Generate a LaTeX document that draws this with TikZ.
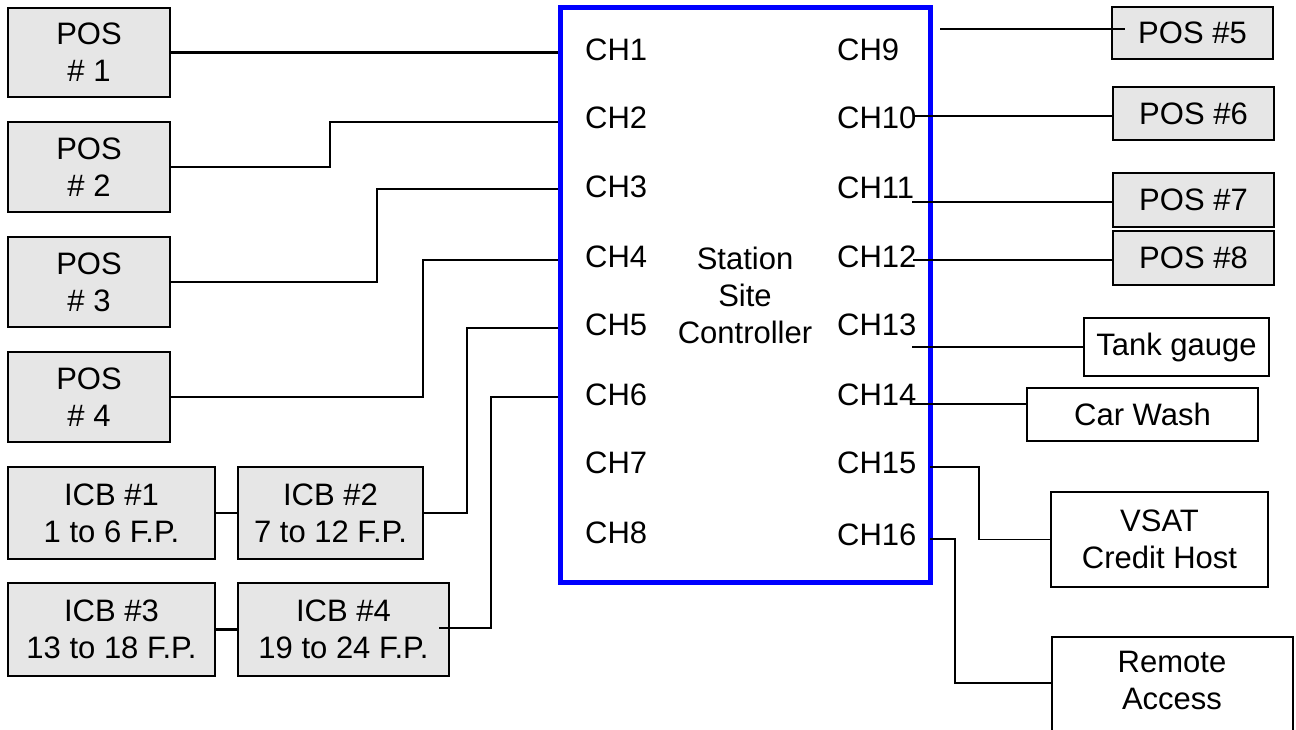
\documentclass[tikz,border=0pt]{standalone}
\usepackage{fontspec}
\setmainfont{Liberation Sans}
\definecolor{boxgray}{RGB}{230,230,230}
\begin{document}
\begin{tikzpicture}[x=1pt,y=-1pt,
  every node/.style={font=\fontsize{31}{37}\selectfont, inner sep=0pt, align=center},
  graybox/.style={draw, line width=2.6pt, fill=boxgray},
  whitebox/.style={draw, line width=2.6pt, fill=white},
  thinbox/.style={draw, line width=1.6pt, fill=white},
  wire/.style={line width=2.3pt},
  thinwire/.style={line width=1.6pt},
  chlabel/.style={anchor=west}]
\useasboundingbox (0,0) rectangle (1296,730);
\clip (0,0) rectangle (1296,730);

% central controller
\node[draw=blue, line width=5pt, minimum width=370pt, minimum height=574pt] (ssc) at (745,295) {Station\\Site\\Controller};

% channel labels
\node[chlabel] (ch1) at (585,50) {CH1};
\node[chlabel] (ch2) at (585,118) {CH2};
\node[chlabel] (ch3) at (585,187) {CH3};
\node[chlabel] (ch4) at (585,257) {CH4};
\node[chlabel] (ch5) at (585,325) {CH5};
\node[chlabel] (ch6) at (585,395) {CH6};
\node[chlabel] (ch7) at (585,463) {CH7};
\node[chlabel] (ch8) at (585,533) {CH8};
\node[chlabel] (ch9) at (837,50) {CH9};
\node[chlabel] (ch10) at (837,118) {CH10};
\node[chlabel] (ch11) at (837,188) {CH11};
\node[chlabel] (ch12) at (837,257) {CH12};
\node[chlabel] (ch13) at (837,325) {CH13};
\node[chlabel] (ch14) at (837,395) {CH14};
\node[chlabel] (ch15) at (837,463) {CH15};
\node[chlabel] (ch16) at (837,535) {CH16};

% left boxes
\node[graybox, minimum width=162pt, minimum height=89pt] (pos1) at (89,52.5) {POS\\\# 1};
\node[graybox, minimum width=162pt, minimum height=90pt] (pos2) at (89,167) {POS\\\# 2};
\node[graybox, minimum width=162pt, minimum height=90pt] (pos3) at (89,282) {POS\\\# 3};
\node[graybox, minimum width=162pt, minimum height=90pt] (pos4) at (89,397) {POS\\\# 4};
\node[graybox, minimum width=207pt, minimum height=92pt] (icb1) at (111.5,513) {ICB \#1\\1 to 6 F.P.};
\node[graybox, minimum width=185pt, minimum height=92pt] (icb2) at (330.5,513) {ICB \#2\\7 to 12 F.P.};
\node[graybox, minimum width=207pt, minimum height=93pt] (icb3) at (111.5,629.5) {ICB \#3\\13 to 18 F.P.};
\node[graybox, minimum width=211pt, minimum height=93pt] (icb4) at (343.5,629.5) {ICB \#4\\19 to 24 F.P.};

% right boxes
\node[graybox, minimum width=161pt, minimum height=52pt] (pos5) at (1192.5,33) {POS \#5};
\node[graybox, minimum width=161pt, minimum height=53pt] (pos6) at (1193.5,113.5) {POS \#6};
\node[graybox, minimum width=161pt, minimum height=54pt] (pos7) at (1193.5,200) {POS \#7};
\node[graybox, minimum width=161pt, minimum height=54pt] (pos8) at (1193.5,258) {POS \#8};
\node[whitebox, minimum width=185pt, minimum height=58pt] (tank) at (1176.5,347) {Tank gauge};
\node[whitebox, minimum width=231pt, minimum height=53pt] (wash) at (1142.5,414.5) {Car Wash};
\node[thinbox, minimum width=217pt, minimum height=95pt] (vsat) at (1159.5,539.5) {VSAT\\Credit Host};
\node[thinbox, minimum width=241pt, minimum height=130pt, anchor=north west] (remote) at (1051,636) {};
\node (remotetext) at (1172,680) {Remote\\Access};

% left connectors
\coordinate (j2) at (330,122);
\coordinate (j3) at (377,189);
\coordinate (j4) at (423,260);
\coordinate (j5) at (467,328);
\coordinate (j6) at (491,397);
\coordinate (s6) at (439,628);
\draw[wire] (pos1.east) -- (pos1.east -| ssc.west);
\draw[wire] (pos2.east) -| (j2) -- (j2 -| ssc.west);
\draw[wire] (pos3.east) -| (j3) -- (j3 -| ssc.west);
\draw[wire] (pos4.east) -| (j4) -- (j4 -| ssc.west);
\draw[wire] (icb2.east) -| (j5) -- (j5 -| ssc.west);
\draw[wire] (s6) -| (j6) -- (j6 -| ssc.west);
\draw[wire] (icb1.east) -- (icb2.west);
\draw[wire] (icb3.east) -- (icb4.west);

% right connectors
\coordinate (c9) at (940,29);
\coordinate (c10) at (913,116);
\coordinate (c11) at (912,202);
\coordinate (c12) at (913,260);
\coordinate (c13) at (912,347);
\coordinate (c14) at (911,404);
\coordinate (c15) at (930,467);
\coordinate (k15) at (979,539.5);
\coordinate (c16) at (930,539);
\coordinate (k16) at (955,683);
\draw[wire] (c9) -- ([xshift=14pt]c9 -| pos5.west);
\draw[thinwire] (c10) -- (c10 -| pos6.west);
\draw[thinwire] (c11) -- (c11 -| pos7.west);
\draw[thinwire] (c12) -- (c12 -| pos8.west);
\draw[thinwire] (c13) -- (c13 -| tank.west);
\draw[thinwire] (c14) -- (c14 -| wash.west);
\draw[thinwire] (c15) -| (k15) -- (vsat.west);
\draw[thinwire] (c16) -| (k16) -- (k16 -| remote.west);
\end{tikzpicture}
\end{document}
